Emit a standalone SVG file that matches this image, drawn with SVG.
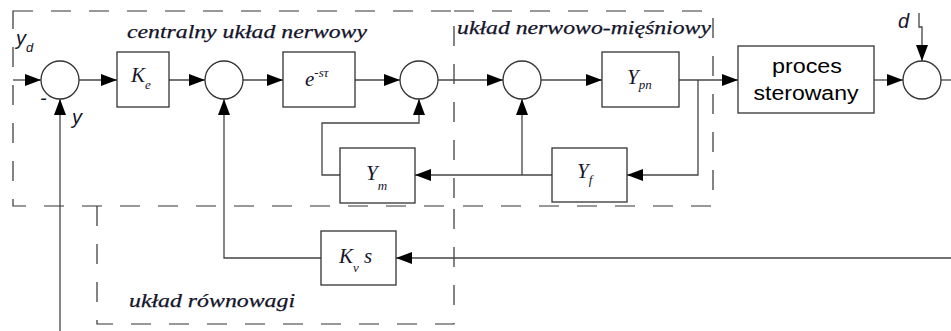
<svg xmlns="http://www.w3.org/2000/svg" width="951" height="331" viewBox="0 0 951 331">
  <defs>
    <marker id="arrow" markerUnits="userSpaceOnUse" markerWidth="16" markerHeight="12" refX="16" refY="6" orient="auto">
      <path d="M0,0 L16,6 L0,12 z" fill="#000"/>
    </marker>
    <style>
      .frame { fill: none; stroke: #333; stroke-width: 1.2; stroke-dasharray: 20 18; }
      .wire { fill: none; stroke: #444; stroke-width: 1.3; }
      .arrow { marker-end: url(#arrow); }
      .box { fill: #fff; stroke: #333; stroke-width: 1.3; }
      .sum { fill: #fff; stroke: #333; stroke-width: 1.3; }
      .region { font-family: "Liberation Serif", "Times New Roman", serif; font-style: italic; font-size: 19px; fill: #14142a; stroke: #14142a; stroke-width: 0.25; }
      .math { font-family: "Liberation Serif", "Times New Roman", serif; font-style: italic; font-size: 21px; fill: #14142a; }
      .sub { font-size: 13px; }
      .sig { font-family: "Liberation Sans", Arial, sans-serif; font-style: italic; font-size: 20px; fill: #14142a; }
      .plant { font-family: "Liberation Sans", Arial, sans-serif; font-size: 20px; fill: #000; text-anchor: middle; }
    </style>
  </defs>
  <rect width="951" height="331" fill="#fff"/>

  <!-- subsystem frames -->
  <g id="frames">
    <rect class="frame" x="13" y="11" width="441" height="195"/>
    <path class="frame" d="M454,11 H713 V206 H454"/>
    <path class="frame" d="M97,206 V324 H454 V206"/>
    <text class="region" x="127" y="38" textLength="240" lengthAdjust="spacingAndGlyphs">centralny układ nerwowy</text>
    <text class="region" x="457" y="34" textLength="254" lengthAdjust="spacingAndGlyphs">układ nerwowo-mięśniowy</text>
    <text class="region" x="129" y="307" textLength="166" lengthAdjust="spacingAndGlyphs">układ równowagi</text>
  </g>

  <!-- signal paths -->
  <g id="connectors">
    <line class="wire arrow" x1="13" y1="80" x2="41" y2="80"/>
    <line class="wire arrow" x1="79" y1="80" x2="117" y2="80"/>
    <line class="wire arrow" x1="169" y1="80" x2="205" y2="80"/>
    <line class="wire arrow" x1="243" y1="80" x2="283" y2="80"/>
    <line class="wire arrow" x1="355" y1="80" x2="400" y2="80"/>
    <line class="wire arrow" x1="438" y1="80" x2="503" y2="80"/>
    <line class="wire arrow" x1="541" y1="80" x2="602" y2="80"/>
    <line class="wire arrow" x1="679" y1="80" x2="738" y2="80"/>
    <line class="wire arrow" x1="874" y1="80" x2="903" y2="80"/>
    <line class="wire" x1="941" y1="80" x2="951" y2="80"/>
    <!-- disturbance -->
    <polyline class="wire arrow" points="919,13 919,27 922,27 922,61"/>
    <!-- output feedback y -->
    <line class="wire arrow" x1="60" y1="331" x2="60" y2="99"/>
    <!-- muscle feedback loop -->
    <polyline class="wire arrow" points="698,80 698,175 627,175"/>
    <line class="wire arrow" x1="552" y1="175" x2="415" y2="175"/>
    <line class="wire arrow" x1="522" y1="175" x2="522" y2="99"/>
    <polyline class="wire arrow" points="340,175 322,175 322,123 419,123 419,99"/>
    <!-- vestibular path -->
    <line class="wire arrow" x1="951" y1="258" x2="396" y2="258"/>
    <polyline class="wire arrow" points="321,258 224,258 224,99"/>
  </g>

  <g id="input-label">
    <text class="sig" x="16" y="45">y<tspan class="sub" dy="7">d</tspan></text>
  </g>
  <g id="sum-error">
    <circle class="sum" cx="60" cy="80" r="19"/>
    <text class="sig" x="40" y="105" font-style="normal" font-size="16">-</text>
    <text class="sig" x="72" y="124">y</text>
  </g>
  <g id="gain-ke">
    <rect class="box" x="117" y="52" width="52" height="55"/>
    <text class="math" x="131" y="82">K<tspan class="sub" dy="7">e</tspan></text>
  </g>
  <g id="sum-vestibular">
    <circle class="sum" cx="224" cy="80" r="19"/>
  </g>
  <g id="delay">
    <rect class="box" x="283" y="52" width="72" height="55"/>
    <text class="math" x="305" y="86">e<tspan class="sub" dy="-9">-sτ</tspan></text>
  </g>
  <g id="sum-muscle-model">
    <circle class="sum" cx="419" cy="80" r="19"/>
  </g>
  <g id="muscle-model">
    <rect class="box" x="340" y="148" width="75" height="55"/>
    <text class="math" x="366" y="180">Y<tspan class="sub" dy="10">m</tspan></text>
  </g>
  <g id="sum-feedback">
    <circle class="sum" cx="522" cy="80" r="19"/>
  </g>
  <g id="neuromuscular">
    <rect class="box" x="602" y="52" width="77" height="55"/>
    <text class="math" x="627" y="84">Y<tspan class="sub" dy="5">pn</tspan></text>
  </g>
  <g id="proprioception">
    <rect class="box" x="552" y="148" width="75" height="54"/>
    <text class="math" x="577" y="178">Y<tspan class="sub" dy="6">f</tspan></text>
  </g>
  <g id="vestibular-gain">
    <rect class="box" x="321" y="231" width="75" height="54"/>
    <text class="math" x="339" y="263">K<tspan class="sub" dy="9">v</tspan><tspan dy="-9"> s</tspan></text>
  </g>
  <g id="plant">
    <rect class="box" x="738" y="46" width="136" height="67"/>
    <text class="plant" x="807" y="73" textLength="70" lengthAdjust="spacingAndGlyphs">proces</text>
    <text class="plant" x="806" y="100" textLength="105" lengthAdjust="spacingAndGlyphs">sterowany</text>
  </g>
  <g id="sum-disturbance">
    <circle class="sum" cx="922" cy="80" r="19"/>
    <text class="sig" x="898" y="28">d</text>
  </g>
</svg>
